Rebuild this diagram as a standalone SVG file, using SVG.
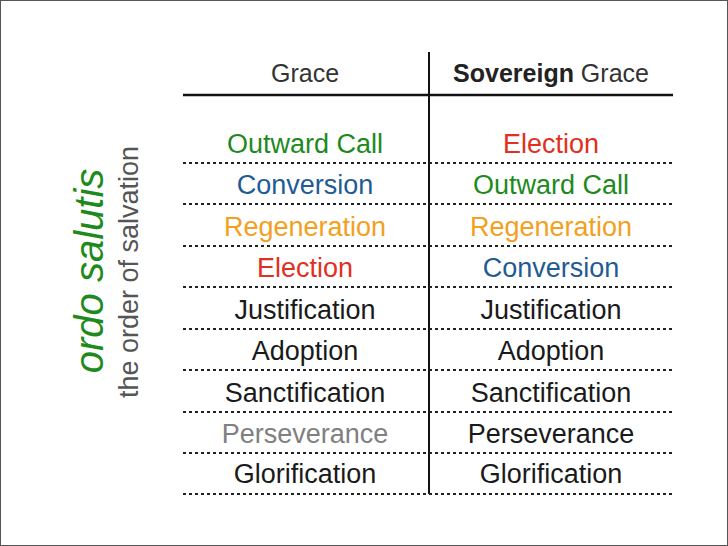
<svg xmlns="http://www.w3.org/2000/svg" width="728" height="546" viewBox="0 0 728 546">
<style>
text{font-family:"Liberation Sans",Arial,sans-serif}
.c{font-size:27px;text-anchor:middle}
.k{fill:#1a1a1a}.g{fill:#1e8a1e}.b{fill:#1f5b94}.o{fill:#f2a01e}.r{fill:#e2301f}.p{fill:#808080}
.d{stroke:#222;stroke-width:2;stroke-dasharray:3,3}
</style>
<rect x="0.5" y="0.5" width="727" height="545" fill="#fff" stroke="#555"/>
<g id="side">
<text transform="translate(103,271) rotate(-90)" text-anchor="middle" font-size="40" font-style="italic" fill="#1e8a1e">ordo salutis</text>
<text transform="translate(138,272) rotate(-90)" text-anchor="middle" font-size="27" fill="#555">the order of salvation</text>
</g>
<g id="grid">
<line x1="183" y1="95" x2="673" y2="95" stroke="#111" stroke-width="2.5"/>
<line x1="429" y1="52" x2="429" y2="494" stroke="#111" stroke-width="2"/>
<line class="d" x1="183" y1="163" x2="673" y2="163"/>
<line class="d" x1="183" y1="204" x2="673" y2="204"/>
<line class="d" x1="183" y1="246" x2="673" y2="246"/>
<line class="d" x1="183" y1="287" x2="673" y2="287"/>
<line class="d" x1="183" y1="329" x2="673" y2="329"/>
<line class="d" x1="183" y1="370" x2="673" y2="370"/>
<line class="d" x1="183" y1="412" x2="673" y2="412"/>
<line class="d" x1="183" y1="453" x2="673" y2="453"/>
<line class="d" x1="183" y1="494" x2="673" y2="494"/>
</g>
<g id="header">
<text x="305" y="82" font-size="25" text-anchor="middle" fill="#333">Grace</text>
<text x="551" y="82" font-size="25" text-anchor="middle" fill="#333"><tspan font-weight="bold" fill="#222">Sovereign</tspan> Grace</text>
</g>
<g id="col-grace">
<text class="c g" x="305" y="153">Outward Call</text>
<text class="c b" x="305" y="194">Conversion</text>
<text class="c o" x="305" y="236">Regeneration</text>
<text class="c r" x="305" y="277">Election</text>
<text class="c k" x="305" y="319">Justification</text>
<text class="c k" x="305" y="360">Adoption</text>
<text class="c k" x="305" y="402">Sanctification</text>
<text class="c p" x="305" y="443">Perseverance</text>
<text class="c k" x="305" y="483">Glorification</text>
</g>
<g id="col-sovereign">
<text class="c r" x="551" y="153">Election</text>
<text class="c g" x="551" y="194">Outward Call</text>
<text class="c o" x="551" y="236">Regeneration</text>
<text class="c b" x="551" y="277">Conversion</text>
<text class="c k" x="551" y="319">Justification</text>
<text class="c k" x="551" y="360">Adoption</text>
<text class="c k" x="551" y="402">Sanctification</text>
<text class="c k" x="551" y="443">Perseverance</text>
<text class="c k" x="551" y="483">Glorification</text>
</g>
</svg>
